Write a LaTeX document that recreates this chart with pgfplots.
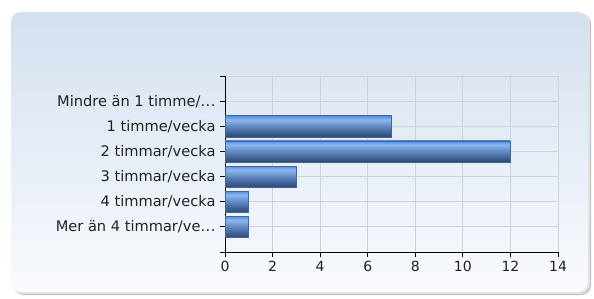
\documentclass[border=0pt]{standalone}
\usepackage{pgfplots}
\pgfplotsset{compat=1.18}
\usepackage{fontspec}
\setmainfont{DejaVu Sans}
\usetikzlibrary{backgrounds}
\definecolor{bgtop}{RGB}{212,224,239}
\definecolor{bgbot}{RGB}{249,251,254}
\definecolor{gridc}{RGB}{205,209,216}
\definecolor{bdark}{RGB}{44,72,116}
\definecolor{bmidd}{RGB}{84,122,178}
\definecolor{blight}{RGB}{140,182,238}
\definecolor{btop}{RGB}{80,142,230}
\definecolor{bedge}{RGB}{70,100,150}
\definecolor{txt}{RGB}{34,34,34}
\pgfdeclareverticalshading{barshade}{100bp}{color(0bp)=(bdark); color(25bp)=(bdark); color(45bp)=(bmidd); color(66bp)=(blight); color(75bp)=(btop); color(100bp)=(btop)}
\newcommand{\dd}{.\kern0.5pt.\kern0.5pt.}
\pgfplotsset{mybar/.style={xbar, bar width=0.84, bar shift=0pt, draw=bedge, line width=0.6pt, shading=barshade, mark=none}}
\begin{document}
\begin{tikzpicture}[x=1pt,y=1pt]
\useasboundingbox (0,0) rectangle (594,298);
\begin{axis}[
  at={(225pt,46pt)}, anchor=south west,
  scale only axis, width=333pt, height=176pt,
  xmin=0, xmax=14, ymin=0, ymax=7,
  y dir=reverse,
  xtick={0,2,4,6,8,10,12,14},
  ytick={0,1,2,3,4,5,6,7},
  yticklabels={{},{Mindre än 1 timme/\dd},{1 timme/vecka},{2 timmar/vecka},{3 timmar/vecka},{4 timmar/vecka},{Mer än 4 timmar/ve\dd},{}},
  axis x line*=bottom, axis y line*=left,
  tick align=outside, major tick length=5pt,
  tick style={black, line width=0.8pt},
  axis line style={black, line width=0.9pt},
  grid=major, major grid style={gridc, line width=0.8pt},
  xticklabel style={font=\fontsize{14}{16}\selectfont, text=txt, yshift=-1pt},
  yticklabel style={font=\fontsize{14.6}{16}\selectfont, text=txt, xshift=-1pt},
  /pgf/number format/assume math mode=true,
]
% Mindre än 1 timme/... = 0 (no visible bar)
\addplot[mybar] coordinates {(7,2)};
\addplot[mybar] coordinates {(12,3)};
\addplot[mybar] coordinates {(3,4)};
\addplot[mybar] coordinates {(1,5)};
\addplot[mybar] coordinates {(1,6)};
\end{axis}
\begin{scope}[on background layer]
  \fill[black!25, rounded corners=10pt] (14,3) rectangle (591,284);
  \fill[black!12, rounded corners=10pt] (13,4) rectangle (590,285);
  \shade[top color=bgtop, bottom color=bgbot, rounded corners=10pt] (11,6) rectangle (588,286);
\end{scope}
\end{tikzpicture}
\end{document}
